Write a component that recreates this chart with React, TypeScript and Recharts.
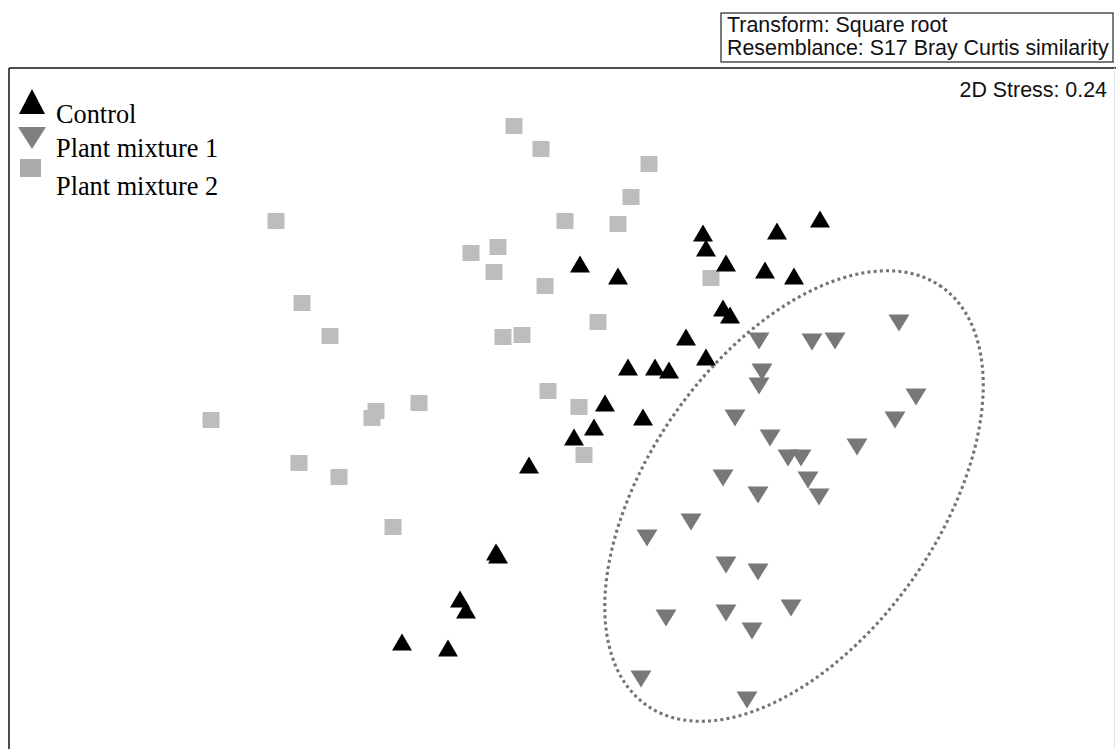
import React from "react";
import { ScatterChart, Scatter, XAxis, YAxis } from "recharts";

// NMDS ordination coordinates (MDS1, MDS2)
const controlPts = [
  [-1.58, -2.42], [-1.12, -2.48], [-1.0, -1.99], [-0.94, -2.1], [-0.64, -1.52],
  [-0.62, -1.55], [-0.31, -0.65], [0.14, -0.37], [0.34, -0.27], [0.45, -0.03],
  [0.83, -0.17], [0.68, 0.33], [0.95, 0.33], [1.09, 0.3], [1.46, 0.43],
  [1.26, 0.63], [1.63, 0.92], [1.7, 0.85], [0.2, 1.36], [0.58, 1.24],
  [1.43, 1.67], [1.46, 1.52], [1.66, 1.37], [2.05, 1.3], [2.34, 1.24],
  [2.17, 1.69], [2.6, 1.81],
];

const mixture1Pts = [
  [1.99, 0.59], [2.52, 0.58], [2.75, 0.59], [3.39, 0.77], [2.02, 0.28],
  [1.99, 0.14], [3.56, 0.03], [3.35, -0.2], [1.75, -0.18], [2.1, -0.38],
  [2.97, -0.47], [2.28, -0.58], [2.41, -0.58], [2.48, -0.8], [2.59, -0.97],
  [1.63, -0.78], [1.98, -0.95], [1.31, -1.22], [0.87, -1.38], [1.66, -1.65],
  [1.98, -1.72], [1.06, -2.18], [1.66, -2.13], [1.92, -2.31], [2.31, -2.08],
  [0.81, -2.79], [1.87, -3.0],
];

const mixture2Pts = [
  [-0.46, 2.74], [-0.19, 2.51], [0.89, 2.36], [0.71, 2.03], [0.05, 1.79],
  [0.58, 1.76], [-2.84, 1.79], [-0.62, 1.53], [-0.89, 1.47], [-0.66, 1.28],
  [-0.15, 1.14], [0.38, 0.78], [-2.58, 0.97], [-2.3, 0.64], [-0.57, 0.63],
  [-0.38, 0.65], [1.51, 1.22], [-3.49, -0.2], [-1.84, -0.11], [-1.88, -0.18],
  [-1.41, -0.03], [-0.12, 0.09], [0.19, -0.07], [0.24, -0.55], [-2.61, -0.63],
  [-2.21, -0.77], [-1.67, -1.27],
];

const seriesNames = ["Control", "Plant mixture 1", "Plant mixture 2"];
const infoLines = ["Transform: Square root", "Resemblance: S17 Bray Curtis similarity"];
const stressLabel = "2D Stress: 0.24";

// Ellipse enclosing Plant mixture 1 (centre, semi-axes, rotation in degrees)
const ellipseCenter = [2.34, -0.96];
const ellipseAxes = [2.56, 1.45];
const ellipseAngle = 54.8;

const toRows = (pts: number[][]) => pts.map(([x, y]) => ({ x, y }));

const ellipseRows = (() => {
  const rows: { x: number; y: number }[] = [];
  const th = (ellipseAngle * Math.PI) / 180;
  const n = 160;
  for (let i = 0; i <= n; i++) {
    const t = (i / n) * Math.PI * 2;
    const a = ellipseAxes[0] * Math.cos(t);
    const b = ellipseAxes[1] * Math.sin(t);
    rows.push({
      x: ellipseCenter[0] + a * Math.cos(th) - b * Math.sin(th),
      y: ellipseCenter[1] + a * Math.sin(th) + b * Math.cos(th),
    });
  }
  return rows;
})();

const UpTri = (p: any) => {
  const { cx, cy } = p;
  if (cx == null || cy == null) return <g />;
  return (
    <polygon
      points={`${cx - 10},${cy + 8.5} ${cx + 10},${cy + 8.5} ${cx},${cy - 8.5}`}
      fill="#000"
    />
  );
};

const DownTri = (p: any) => {
  const { cx, cy } = p;
  if (cx == null || cy == null) return <g />;
  return (
    <polygon
      points={`${cx - 10.5},${cy - 8.5} ${cx + 10.5},${cy - 8.5} ${cx},${cy + 8.5}`}
      fill="#787878"
    />
  );
};

const Sq = (p: any) => {
  const { cx, cy } = p;
  if (cx == null || cy == null) return <g />;
  return <rect x={cx - 8.5} y={cy - 8} width={17} height={16} fill="#bdbdbd" />;
};

const Empty = () => <g />;

export default function App() {
  return (
    <div
      style={{
        position: "absolute",
        left: 0,
        top: 0,
        width: 1116,
        height: 749,
        background: "#fff",
        overflow: "hidden",
      }}
    >
      <ScatterChart
        width={1116}
        height={749}
        margin={{ top: 0, right: 0, bottom: 0, left: 0 }}
      >
        <XAxis type="number" dataKey="x" domain={[-5.6, 5.56]} hide allowDataOverflow />
        <YAxis type="number" dataKey="y" domain={[-3.49, 4.0]} hide allowDataOverflow />
        <Scatter
          data={ellipseRows}
          fill="none"
          line={{ stroke: "#737373", strokeWidth: 3.1, strokeDasharray: "3 3.2" }}
          lineType="joint"
          shape={Empty}
          isAnimationActive={false}
          legendType="none"
        />
        <Scatter name={seriesNames[2]} data={toRows(mixture2Pts)} shape={Sq} isAnimationActive={false} />
        <Scatter name={seriesNames[0]} data={toRows(controlPts)} shape={UpTri} isAnimationActive={false} />
        <Scatter name={seriesNames[1]} data={toRows(mixture1Pts)} shape={DownTri} isAnimationActive={false} />
      </ScatterChart>
      <svg
        width={1116}
        height={749}
        style={{ position: "absolute", left: 0, top: 0, pointerEvents: "none" }}
      >
        <line x1={9} y1={68} x2={1116} y2={68} stroke="#111" strokeWidth={1.5} />
        <line x1={9} y1={68} x2={9} y2={749} stroke="#111" strokeWidth={1.5} />
        <line x1={1114.5} y1={68} x2={1114.5} y2={749} stroke="#e6e6e6" strokeWidth={1} />
        <rect x={721} y={13} width={392} height={49} fill="none" stroke="#222" strokeWidth={1.2} />
        <g fontFamily="'Liberation Sans', Arial, sans-serif" fontSize={21.4} fill="#111">
          <text x={727} y={31.5}>{infoLines[0]}</text>
          <text x={727} y={55}>{infoLines[1]}</text>
          <text x={1107} y={96.5} textAnchor="end">{stressLabel}</text>
        </g>
        <polygon points="19,114 45,114 32,89" fill="#000" />
        <polygon points="18,127 46,127 32,149" fill="#808080" />
        <rect x={20} y={159} width={21} height={18} fill="#aaaaaa" />
        <g fontFamily="'Liberation Serif', 'Times New Roman', serif" fontSize={26.3} fill="#000">
          <text x={56} y={123}>{seriesNames[0]}</text>
          <text x={56} y={157}>{seriesNames[1]}</text>
          <text x={56} y={195}>{seriesNames[2]}</text>
        </g>
      </svg>
    </div>
  );
}
